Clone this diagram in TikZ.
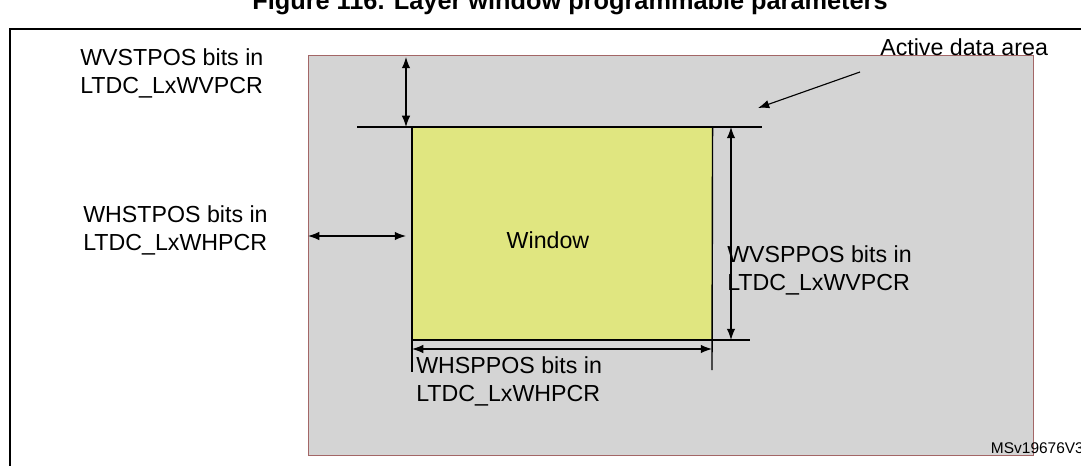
\documentclass[tikz,border=0pt]{standalone}
\usepackage{fontspec}
\setmainfont{Liberation Sans}
\usetikzlibrary{arrows.meta}
\usetikzlibrary{positioning}

\begin{document}
\begin{tikzpicture}[x=0.025cm, y=-0.025cm, font=\fontsize{16.5}{20}\selectfont,
  dim/.style={{Latex[length=8pt,width=6pt]}-{Latex[length=8pt,width=6pt]}, line width=0.8pt},
  lbl/.style={align=left, anchor=north west, inner sep=0pt}]
\useasboundingbox (0,0) rectangle (1081,466);
\draw[fill=black!17, draw=red!40!black!60] (308,55) rectangle (1033,455);
\begin{scope}
\clip (0,0) rectangle (1081,466);
\node[font=\bfseries\fontsize{18}{20}\selectfont] (title) at (570,3) {Figure 116. Layer window programmable parameters};
\draw[line width=1pt] (10,466) -- (10,29) -- (1090,29);
\node[anchor=base west, font=\fontsize{11}{13}\selectfont] (ref) at (986,453) {MSv19676V3};
\end{scope}

\node[draw=black, fill={rgb,255:red,224;green,230;blue,128}, minimum width=300*0.025cm, minimum height=213*0.025cm, anchor=north west, inner sep=0pt] (win) at (412,127) {};
\node (wlbl) at (548,240) {Window};

% guide lines
\draw[line width=1pt] (357,127) coordinate (tl) -- (762,127) coordinate (tr);
\draw[line width=1pt] (412,340) -- (750,340) coordinate (br);
\draw[line width=1pt] (win.north west) -- (412,372) coordinate (lb);
\draw[line width=1pt] (win.north east) -- (712,370) coordinate (rb);

% dimension arrows
\coordinate (a1) at (406,57);
\draw[dim] (a1) -- (406,127);
\coordinate (a2) at (308,236);
\draw[dim] (a2) -- (406,236);
\draw[dim] (731,127) -- (731,340);
\draw[dim] (412,349) -- (712,349);

\node[lbl] (vst) at (80,48) {WVSTPOS bits in\\LTDC\_LxWVPCR};
\node[lbl] (hst) at (83,205) {WHSTPOS bits in\\LTDC\_LxWHPCR};
\node[lbl] (vsp) at (727,245) {WVSPPOS bits in\\LTDC\_LxWVPCR};
\node[lbl] (hsp) at (416,356) {WHSPPOS bits in\\LTDC\_LxWHPCR};
\node[lbl] (act) at (880,38) {Active data area};
\draw[-{Latex[length=8pt,width=6pt]}, line width=0.8pt] (860,72) -- (758,108);
\end{tikzpicture}
\end{document}
